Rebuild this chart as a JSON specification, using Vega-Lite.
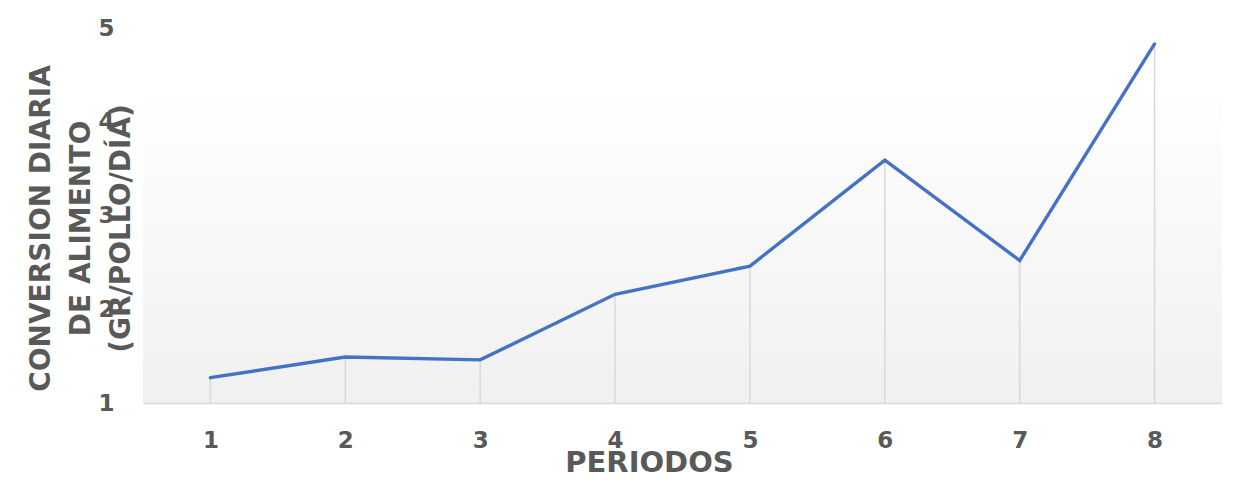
{
  "$schema": "https://vega.github.io/schema/vega-lite/v6.json",
  "width": 1079,
  "height": 375,
  "autosize": "none",
  "padding": {"left": 143, "top": 28, "right": 38, "bottom": 80},
  "background": "white",
  "config": {
    "view": {
      "stroke": null,
      "fill": {
        "gradient": "linear",
        "x1": 0, "y1": 0, "x2": 0, "y2": 1,
        "stops": [
          {"offset": 0, "color": "#ffffff"},
          {"offset": 0.14, "color": "#ffffff"},
          {"offset": 1, "color": "#f0f0f0"}
        ]
      }
    },
    "font": "DejaVu Sans"
  },
  "data": {
    "values": [
      {"periodo": 1, "conversion": 1.27, "base": 1},
      {"periodo": 2, "conversion": 1.49, "base": 1},
      {"periodo": 3, "conversion": 1.46, "base": 1},
      {"periodo": 4, "conversion": 2.16, "base": 1},
      {"periodo": 5, "conversion": 2.46, "base": 1},
      {"periodo": 6, "conversion": 3.59, "base": 1},
      {"periodo": 7, "conversion": 2.52, "base": 1},
      {"periodo": 8, "conversion": 4.83, "base": 1}
    ]
  },
  "encoding": {
    "x": {
      "field": "periodo",
      "type": "quantitative",
      "scale": {"domain": [0.5, 8.5], "nice": false, "zero": false},
      "axis": {
        "values": [1, 2, 3, 4, 5, 6, 7, 8],
        "format": "d",
        "title": "PERIODOS",
        "grid": false,
        "ticks": false,
        "domainColor": "#d9d9d9",
        "domainWidth": 1.5,
        "labelFont": "DejaVu Sans",
        "labelFontWeight": "bold",
        "labelFontSize": 23,
        "labelColor": "#595959",
        "labelPadding": 26,
        "labelBaseline": "top",
        "titleFont": "DejaVu Sans",
        "titleFontWeight": "bold",
        "titleFontSize": 29,
        "titleColor": "#595959",
        "titleX": 506,
        "titleY": 45,
        "titleAlign": "center",
        "titleBaseline": "top"
      }
    }
  },
  "layer": [
    {
      "mark": {"type": "rule", "color": "#d9d9d9", "strokeWidth": 1.5},
      "encoding": {
        "y": {"field": "base", "type": "quantitative"},
        "y2": {"field": "conversion"}
      }
    },
    {
      "mark": {"type": "line", "color": "#4472C4", "strokeWidth": 3.4, "strokeCap": "round"},
      "encoding": {
        "y": {
          "field": "conversion",
          "type": "quantitative",
          "scale": {"domain": [1, 5], "nice": false, "zero": false},
          "axis": {
            "values": [1, 2, 3, 4, 5],
            "format": "d",
            "title": ["CONVERSION DIARIA", "DE ALIMENTO", "(GR/POLLO/DÍA)"],
            "grid": false,
            "ticks": false,
            "domain": false,
            "labelFont": "DejaVu Sans",
            "labelFontWeight": "bold",
            "labelFontSize": 23,
            "labelColor": "#595959",
            "labelPadding": 29,
            "titleFont": "DejaVu Sans",
            "titleFontWeight": "bold",
            "titleFontSize": 28,
            "titleColor": "#595959",
            "titleLineHeight": 40,
            "titleAngle": -90,
            "titleAlign": "center",
            "titleBaseline": "top",
            "titleX": -116,
            "titleY": 200
          }
        }
      }
    }
  ]
}
